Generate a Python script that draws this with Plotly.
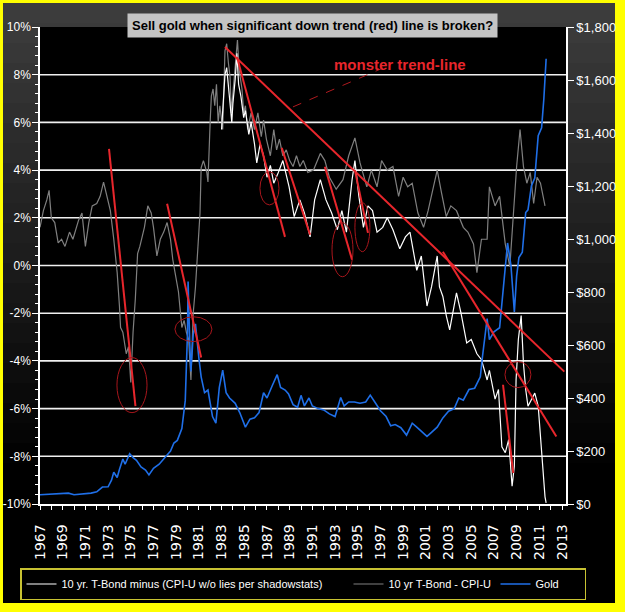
import plotly.graph_objects as go

# ---------------- data ----------------
gray_years = [1967.0, 1967.3, 1967.6, 1967.8, 1968.0, 1968.3, 1968.6, 1968.9, 1969.2, 1969.6, 1969.9,
              1970.4, 1970.7, 1971.0, 1971.3, 1971.6, 1972.0, 1972.3, 1972.6, 1972.9, 1973.2, 1973.5,
              1973.8, 1974.0, 1974.1, 1974.3, 1974.6, 1974.8, 1975.0, 1975.2, 1975.4, 1975.6, 1975.8,
              1976.2, 1976.5, 1976.8, 1977.0, 1977.3, 1977.6, 1977.9, 1978.2, 1978.5, 1978.7, 1978.9,
              1979.2, 1979.5, 1979.7, 1979.9, 1980.1, 1980.3, 1980.5, 1980.7, 1980.9, 1981.1, 1981.2,
              1981.4, 1981.7, 1981.8, 1982.0, 1982.1, 1982.25, 1982.4, 1982.55, 1982.7, 1982.85, 1983.1,
              1983.3, 1983.45, 1983.6, 1983.75, 1983.85, 1984.0, 1984.2, 1984.4, 1984.55, 1984.8, 1984.95,
              1985.1, 1985.3, 1985.6, 1985.9, 1986.2, 1986.5, 1986.7, 1986.95, 1987.3, 1987.6, 1987.85,
              1988.1, 1988.4, 1988.7, 1989.0, 1989.3, 1989.6, 1989.9, 1990.2, 1990.6, 1991.1, 1991.7,
              1992.1, 1992.5, 1993.1, 1993.7, 1994.2, 1994.75, 1995.2, 1995.8, 1996.2, 1996.7, 1997.1,
              1997.6, 1998.1, 1998.6, 1999.0, 1999.4, 1999.8, 2000.3, 2000.8, 2001.2, 2001.7, 2002.0,
              2002.4, 2002.8, 2003.2, 2003.7, 2004.3, 2004.7, 2005.2, 2005.5, 2005.9, 2006.4, 2006.6,
              2007.1, 2007.5, 2008.0, 2008.4, 2008.7, 2009.0, 2009.3, 2009.6, 2009.9, 2010.2, 2010.5,
              2010.8, 2011.1, 2011.5]
gray_vals = [1.6, 2.3, 2.75, 3.15, 2.0, 1.8, 0.95, 1.1, 0.8, 1.4, 1.1,
             1.9, 2.2, 0.8, 1.8, 2.5, 2.6, 2.9, 3.5, 2.9, 2.3, 1.1,
             -0.3, -1.7, -2.6, -2.8, -3.7, -3.4, -4.9, -2.8, -1.4, 0.5, 0.8,
             1.6, 2.5, 2.2, 1.6, 0.4, 1.1, 1.4, 1.8, 1.1, 0.25, -0.3,
             -1.1, -2.6, -2.3, -2.8, -3.1, -4.8, -2.0, -0.9, 0.5, 2.2, 4.1,
             4.4, 3.9, 3.5, 6.1, 7.1, 7.4, 6.7, 7.6, 6.0, 6.7, 5.7,
             9.0, 9.3, 8.5, 7.9, 6.4, 7.2, 8.2, 9.45, 8.2, 7.4, 6.4,
             6.7, 5.7, 6.4, 5.7, 6.4, 5.4, 6.1, 5.3, 4.6, 5.7, 4.85,
             5.3, 4.6, 4.85, 4.4, 4.15, 4.6, 4.15, 4.4, 3.9, 4.0, 4.7,
             4.4, 3.7, 3.2, 3.6, 4.6, 5.35, 4.3, 3.3, 4.0, 3.3, 4.4,
             4.0, 4.15, 2.9, 3.7, 3.3, 3.45, 2.2, 1.6, 2.3, 3.45, 4.0,
             3.0, 2.05, 2.5, 2.3, 1.6, 1.4, 0.9, -0.3, 1.1, 1.1, 3.3,
             2.5, 2.9, 0.9, -0.05, 2.05, 4.15, 5.7, 4.15, 3.45, 3.9, 2.6,
             3.7, 3.45, 2.5]

white_years = [1983.0, 1983.3, 1983.45, 1983.6, 1983.75, 1983.9, 1984.0, 1984.2, 1984.35, 1984.5,
               1984.7, 1984.95, 1985.1, 1985.4, 1985.6, 1985.9, 1986.1, 1986.4, 1986.7, 1987.0,
               1987.3, 1987.6, 1988.0, 1988.4, 1988.95, 1989.4, 1989.9, 1990.3, 1990.8, 1991.2,
               1991.7, 1992.2, 1992.7, 1993.2, 1993.6, 1994.0, 1994.5, 1994.75, 1995.1, 1995.5,
               1995.9, 1996.3, 1996.7, 1997.2, 1997.6, 1998.1, 1998.7, 1999.2, 1999.6, 2000.2,
               2000.6, 2001.1, 2001.5, 2002.0, 2002.2, 2002.5, 2002.8, 2003.1, 2003.7, 2004.1,
               2004.6, 2005.0, 2005.5, 2005.9, 2006.4, 2006.6, 2007.1, 2007.4, 2007.7, 2008.0,
               2008.3, 2008.6, 2008.8, 2008.95, 2009.15, 2009.4, 2009.6, 2009.8, 2010.0, 2010.3,
               2010.6, 2010.9, 2011.05, 2011.2, 2011.5, 2011.6]
white_vals = [5.7, 8.0, 8.3, 7.6, 7.0, 6.0, 6.8, 7.8, 8.9, 7.6,
              7.1, 6.2, 6.5, 5.5, 6.0, 5.1, 4.3, 5.1, 4.6, 3.7,
              4.2, 3.45, 3.9, 4.4, 3.3, 2.05, 2.75, 2.2, 1.2, 2.75,
              3.6, 2.75, 2.2, 1.5, 2.3, 1.4, 3.6, 4.4, 2.9, 1.6,
              2.5, 2.3, 1.4, 1.6, 2.0, 1.5, 0.7, 1.2, 1.4, -0.2,
              0.4, -1.7, -0.9, 0.4, -0.9, -1.3, -2.1, -2.7, -1.15, -2.0,
              -3.25, -3.1, -3.7, -3.95, -4.8, -4.4, -5.6, -5.2, -7.6, -7.85,
              -7.3, -9.25, -8.4, -4.8, -3.1, -2.1, -4.1, -5.2, -5.9, -5.6,
              -5.35, -5.9, -6.9, -8.1, -9.7, -9.95]

gold_years = [1967.0, 1968.2, 1969.0, 1969.5, 1970.0, 1971.0, 1971.5, 1972.0, 1972.5, 1973.0, 1973.3,
              1973.5, 1973.8, 1974.0, 1974.3, 1974.5, 1974.9, 1975.2, 1975.5, 1975.9, 1976.3, 1976.6,
              1977.0, 1977.5, 1978.0, 1978.5, 1978.8, 1979.1, 1979.5, 1979.8, 1980.0, 1980.05, 1980.2,
              1980.3, 1980.5, 1980.7, 1981.0, 1981.2, 1981.5, 1981.8, 1982.2, 1982.5, 1982.8, 1983.1,
              1983.4, 1983.7, 1984.2, 1984.6, 1985.1, 1985.5, 1985.9, 1986.3, 1986.7, 1987.0, 1987.5,
              1987.9, 1988.2, 1988.6, 1988.9, 1989.3, 1989.7, 1990.0, 1990.3, 1990.7, 1991.0, 1991.5,
              1992.0, 1992.5, 1993.0, 1993.5, 1993.8, 1994.2, 1994.7, 1995.2, 1995.7, 1996.1, 1996.5,
              1997.0, 1997.5, 1997.9, 1998.3, 1998.8, 1999.3, 1999.8, 2000.2, 2000.6, 2001.1, 2001.5,
              2002.0, 2002.5, 2003.0, 2003.5, 2003.9, 2004.3, 2004.8, 2005.3, 2005.8, 2006.0, 2006.4,
              2006.6, 2007.0, 2007.5, 2007.8, 2008.1, 2008.2, 2008.5, 2008.8, 2009.0, 2009.2, 2009.5,
              2009.8, 2010.0, 2010.3, 2010.6, 2010.9, 2011.2, 2011.4, 2011.6]
gold_vals = [35, 38, 42, 41, 35, 38, 41, 46, 64, 65, 90,
             120, 100, 130, 170, 150, 190, 175, 165, 140, 128, 110,
             135, 150, 175, 200, 230, 240, 285, 390, 650, 840, 600,
             500, 640, 680, 550, 480, 420, 430, 330, 305, 440, 505,
             420, 400, 380, 345, 290, 320, 325, 345, 420, 400, 450,
             488, 440, 430, 415, 375, 365, 410, 370, 400, 370, 360,
             355, 340, 330, 402, 370, 385, 385, 380, 385, 411, 385,
             352, 330, 295, 300, 288, 260, 305, 290, 275, 255, 270,
             290, 325, 350, 360, 400, 392, 432, 437, 480, 560, 700,
             620, 650, 665, 800, 920, 985, 900, 725, 860, 930, 950,
             1100, 1110, 1200, 1230, 1390, 1420, 1530, 1680]

x_tick_years = list(range(1967, 2014, 2))
pct_ticks = [-10, -8, -6, -4, -2, 0, 2, 4, 6, 8, 10]
pct_gridlines = [-8, -6, -4, -2, 0, 2, 4, 6, 8]
usd_ticks = list(range(0, 1801, 200))

# red trend lines: (year0, pct0, year1, pct1)
trend_lines = [
    (1973.08, 4.89, 1975.41, -5.9),
    (1978.2, 2.59, 1981.2, -3.86),
    (1984.36, 8.74, 1988.59, 1.2),
    (1988.3, 4.93, 1990.8, 1.29),
    (1992.1, 4.14, 1994.5, 0.24),
    (1994.75, 4.0, 1995.9, 1.37),
    (1983.3, 9.16, 2013.2, -4.45),
    (2002.5, 0.58, 2012.5, -7.17),
    (2007.8, -5.0, 2008.7, -8.7),
]
# circled areas: (year0, year1, pct_low, pct_high)
circles = [
    (1973.78, 1976.43, -6.17, -3.86),
    (1978.89, 1982.15, -3.19, -2.15),
    (1986.38, 1988.06, 2.54, 3.93),
    (1992.73, 1994.58, -0.47, 1.79),
    (1994.75, 1996.07, 0.58, 2.63),
    (2007.97, 2010.26, -5.12, -4.03),
]
pointer_line = (1989.29, 6.65, 1997.22, 8.28)

# ---------------- layout helpers ----------------
W, H = 625, 612
L, R, T, B = 40, 566, 27, 504


def px_x(px):
    return (px - L) / (R - L)


def px_y(py):
    return (B - py) / (B - T)


SANS = "Liberation Sans, Arial, sans-serif"

fig = go.Figure()

fig.add_trace(go.Scatter(x=gray_years, y=gray_vals, mode="lines", name="10 yr T-Bond - CPI-U",
                         line=dict(color="#808080", width=1.2), legendrank=2, legendwidth=102))
fig.add_trace(go.Scatter(x=white_years, y=white_vals, mode="lines",
                         name="10 yr. T-Bond minus (CPI-U w/o lies per shadowstats)",
                         line=dict(color="#ffffff", width=1.2), legendrank=1, legendwidth=282))
fig.add_trace(go.Scatter(x=gold_years, y=gold_vals, mode="lines", name="Gold", yaxis="y2",
                         line=dict(color="#1f6fe8", width=1.6), legendrank=3, legendwidth=44))

shapes = []
# background gradient (dark gray at top to black)
n = 30
top, bot = 3, 603
for i in range(n):
    y0 = top + (bot - top) * i / n
    y1 = top + (bot - top) * (i + 1) / n
    c = max(0, int(62 - 62 * ((y0 + y1) / 2 - top) / 470))
    shapes.append(dict(type="rect", xref="paper", yref="paper", layer="below",
                       x0=px_x(3), x1=px_x(615), y0=px_y(y1), y1=px_y(y0),
                       fillcolor=f"rgb({c},{c},{c})", line=dict(width=0)))
shapes.append(dict(type="rect", xref="paper", yref="paper", layer="below",
                   x0=0, x1=1, y0=0, y1=1, fillcolor="black", line=dict(width=0)))
for g in pct_gridlines:
    shapes.append(dict(type="line", xref="paper", yref="y", layer="below", x0=0, x1=1, y0=g, y1=g,
                       line=dict(color="#f0f0f0", width=1.6)))

for (x0, y0, x1, y1) in trend_lines:
    shapes.append(dict(type="line", xref="x", yref="y", x0=x0, y0=y0, x1=x1, y1=y1,
                       line=dict(color="#e8262c", width=2)))
for (x0, x1, y0, y1) in circles:
    shapes.append(dict(type="circle", xref="x", yref="y", x0=x0, x1=x1, y0=y0, y1=y1,
                       line=dict(color="#a8161c", width=1)))
px0, py0, px1, py1 = pointer_line
shapes.append(dict(type="line", xref="x", yref="y", x0=px0, y0=py0, x1=px1, y1=py1,
                   line=dict(color="#b01a1f", width=1, dash="dash")))

annotations = [
    dict(text="<b>Sell gold when significant down trend (red) line is broken?</b>",
         xref="paper", yref="paper", x=px_x(312), y=px_y(25.5), xanchor="center", yanchor="middle",
         showarrow=False, font=dict(family=SANS, size=13, color="black"),
         bgcolor="#c4c4c4", borderpad=4),
    dict(text="<b>monster trend-line</b>", xref="x", yref="y", x=1998.72, y=8.41,
         xanchor="center", yanchor="middle", showarrow=False,
         font=dict(family=SANS, size=15, color="#e8262c")),
]

fig.update_layout(
    width=W, height=H,
    margin=dict(l=L, r=W - R, t=T, b=H - B, pad=0, autoexpand=False),
    paper_bgcolor="#ffff00",
    plot_bgcolor="black",
    shapes=shapes,
    annotations=annotations,
    showlegend=True,
    legend=dict(orientation="h", x=px_x(20), y=px_y(568), xanchor="left", yanchor="top",
                bgcolor="black", bordercolor="#c8c232", borderwidth=1.5,
                font=dict(family=SANS, size=11, color="white"),
                itemwidth=30, tracegroupgap=0),
    xaxis=dict(range=[1967, 2013.35], tickmode="array", tickvals=x_tick_years,
               ticktext=[str(y) for y in x_tick_years], tickangle=-90,
               ticks="outside", ticklen=4, tickcolor="white", tickwidth=1,
               minor=dict(dtick=1, tick0=1967, ticks="outside", ticklen=4, tickcolor="white"),
               showline=True, linecolor="white", linewidth=1.5, showgrid=False, zeroline=False,
               tickfont=dict(family="DejaVu Sans, sans-serif", size=14, color="white"),
               ticklabelstandoff=9, automargin=False),
    yaxis=dict(range=[-10, 10], tickmode="array", tickvals=pct_ticks,
               ticktext=[f"{v}%" for v in pct_ticks],
               ticks="outside", ticklen=6, tickcolor="white", tickwidth=1,
               minor=dict(dtick=0.4, tick0=-10, ticks="outside", ticklen=3, tickcolor="white",
                          showgrid=False),
               showline=True, linecolor="white", linewidth=1.5,
               showgrid=False, zeroline=False, automargin=False, ticklabelstandoff=-1,
               tickfont=dict(family=SANS, size=12, color="white")),
    yaxis2=dict(range=[0, 1800], overlaying="y", side="right", tickmode="array",
                tickvals=usd_ticks, ticktext=[f"${v:,}" for v in usd_ticks],
                ticks="outside", ticklen=6, tickcolor="white", tickwidth=1,
                showline=True, linecolor="white", linewidth=1.5, showgrid=False, zeroline=False,
                automargin=False,
                tickfont=dict(family=SANS, size=13, color="white")),
)

fig.write_html("out.html")
